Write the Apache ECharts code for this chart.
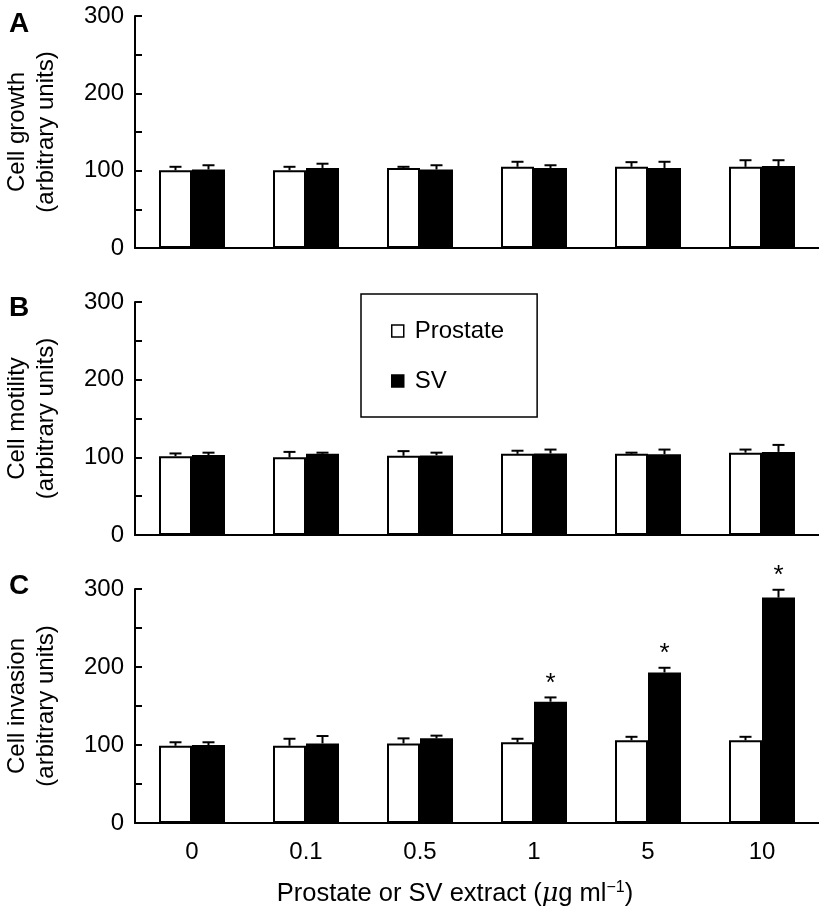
<!DOCTYPE html>
<html><head><meta charset="utf-8">
<script src="https://cdn.jsdelivr.net/npm/echarts@6/dist/echarts.min.js"></script>
<style>html,body{margin:0;padding:0;background:#fff}#c{width:819px;height:911px}</style>
</head><body><div id="c"></div>
<script>
const categories = ['0', '0.1', '0.5', '1', '5', '10'];
const yTicks = [0, 100, 200, 300];

const growthProstate = [100.5, 100.5, 103.5, 105, 105, 105];
const growthProstateErr = [4.5, 4.5, 1.5, 6.5, 6, 8.5];
const growthSV = [101.5, 103.5, 101.5, 103.5, 103.5, 106];
const growthSVErr = [5.5, 5.5, 5.5, 3.5, 8, 7.5];

const motilityProstate = [101.5, 100, 102, 104.5, 104.5, 106];
const motilityProstateErr = [3.5, 7, 6, 4, 1.5, 4];
const motilitySV = [103, 104.5, 102.5, 105, 104, 107];
const motilitySVErr = [3, 1.5, 3.5, 5, 6, 9];

const invasionProstate = [99, 99, 102, 103.5, 106, 106];
const invasionProstateErr = [4.5, 9, 6.5, 4.5, 4.5, 4.5];
const invasionSV = [100, 102, 108.5, 155.5, 193, 289];
const invasionSVErr = [3.5, 9.5, 3.5, 5.5, 6, 10];
const invasionSignificant = [0, 0, 0, 1, 1, 1];

const panelLetters = ['A', 'B', 'C'];
const yNames = ['Cell growth\n(arbitrary units)', 'Cell motility\n(arbitrary units)', 'Cell invasion\n(arbitrary units)'];

const FONT = '"Liberation Sans", Arial, Helvetica, sans-serif';
const FS = 24;
const BW = 33;

const panels = [
  {p: growthProstate, pe: growthProstateErr, s: growthSV, se: growthSVErr, sig: null},
  {p: motilityProstate, pe: motilityProstateErr, s: motilitySV, se: motilitySVErr, sig: null},
  {p: invasionProstate, pe: invasionProstateErr, s: invasionSV, se: invasionSVErr, sig: invasionSignificant}
];

const grids = [
  {left: 135, right: 0, top: 16, height: 232, containLabel: false, outerBoundsMode: 'none'},
  {left: 135, right: 0, top: 302, height: 233, containLabel: false, outerBoundsMode: 'none'},
  {left: 135, right: 0, top: 589, height: 234, containLabel: false, outerBoundsMode: 'none'}
];

const xAxes = grids.map((g, i) => ({
  type: 'category', gridIndex: i, data: categories,
  axisLine: {lineStyle: {color: '#000', width: 2}},
  axisTick: {show: false},
  axisLabel: {show: i === 2, color: '#000', fontSize: FS, fontFamily: FONT, margin: 17},
  name: i === 2 ? '{a|Prostate or SV extract (}{mu|μ}{a|g ml}{sup|−1}{a|)}' : '',
  nameLocation: 'middle', nameGap: 57,
  nameTextStyle: {
    padding: [0, 44, 0, 0],
    rich: {
      a: {fontSize: 25.5, fontFamily: FONT, color: '#000', lineHeight: 28},
      mu: {fontSize: 25.5, fontFamily: '"DejaVu Serif", serif', fontStyle: 'italic', color: '#000', lineHeight: 28},
      sup: {fontSize: 16, fontFamily: FONT, color: '#000', verticalAlign: 'top', lineHeight: 28, padding: [0, 0, 10, 0]}
    }
  }
}));

const yAxes = grids.map((g, i) => ({
  type: 'value', gridIndex: i, min: 0, max: 300, interval: 50,
  axisLine: {show: true, lineStyle: {color: '#000', width: 2}},
  axisTick: {show: true, inside: true, length: 7, lineStyle: {color: '#000', width: 2}},
  splitLine: {show: false},
  axisLabel: {color: '#000', fontSize: FS, fontFamily: FONT, margin: 11,
    formatter: v => yTicks.includes(v) ? String(v) : ''},
  name: yNames[i], nameLocation: 'middle', nameGap: 74, nameRotate: 90,
  nameTextStyle: {color: '#000', fontSize: FS, fontFamily: FONT, lineHeight: 29}
}));

const series = [];
panels.forEach((pn, i) => {
  series.push({
    name: 'Prostate', type: 'bar', xAxisIndex: i, yAxisIndex: i, data: pn.p,
    barWidth: BW, barGap: '0%',
    itemStyle: {color: '#fff', borderColor: '#000', borderWidth: 2},
    z: 2
  });
  series.push({
    name: 'SV', type: 'bar', xAxisIndex: i, yAxisIndex: i, data: pn.s,
    barWidth: BW, barGap: '0%',
    itemStyle: {color: '#000', borderColor: '#000', borderWidth: 2},
    z: 2
  });
  const errData = [];
  categories.forEach((c, k) => {
    errData.push([k, pn.p[k], pn.pe[k], -1, 0]);
    errData.push([k, pn.s[k], pn.se[k], 1, pn.sig ? pn.sig[k] : 0]);
  });
  series.push({
    type: 'custom', xAxisIndex: i, yAxisIndex: i, data: errData, z: 3, clip: false,
    silent: true,
    renderItem: function (params, api) {
      const k = api.value(0), v = api.value(1), e = api.value(2), side = api.value(3), sig = api.value(4);
      const base = api.coord([k, v]);
      const top = api.coord([k, v + e]);
      const x = base[0] + side * BW / 2;
      const cap = 6;
      const children = [
        {type: 'line', shape: {x1: x, y1: base[1], x2: x, y2: top[1]}, style: {stroke: '#000', lineWidth: 2}},
        {type: 'line', shape: {x1: x - cap, y1: top[1], x2: x + cap, y2: top[1]}, style: {stroke: '#000', lineWidth: 2}}
      ];
      if (sig) {
        children.push({type: 'text', style: {text: '*', x: x, y: top[1] - 14, fontSize: 26, fontFamily: FONT,
          fill: '#000', align: 'center', verticalAlign: 'middle'}});
      }
      return {type: 'group', children: children};
    }
  });
});

const chart = echarts.init(document.getElementById('c'), null, {renderer: 'canvas'});
chart.setOption({
  animation: false,
  backgroundColor: '#fff',
  grid: grids,
  xAxis: xAxes,
  yAxis: yAxes,
  legend: {
    data: ['Prostate', 'SV'], orient: 'vertical', left: 361, top: 294,
    icon: 'rect', itemWidth: 12, itemHeight: 12, itemGap: 26,
    padding: [25, 33, 24, 30], borderColor: '#000', borderWidth: 1.5,
    textStyle: {color: '#000', fontSize: FS, fontFamily: FONT, lineHeight: 24, padding: [0, 0, 0, 6]},
    itemStyle: {borderWidth: 1.5}
  },
  graphic: panelLetters.map((t, i) => ({
    type: 'text', left: 9, top: [10, 294, 572][i],
    style: {text: t, fontSize: 28, fontWeight: 'bold', fontFamily: FONT, fill: '#000'}
  })),
  series: series
});
</script></body></html>
